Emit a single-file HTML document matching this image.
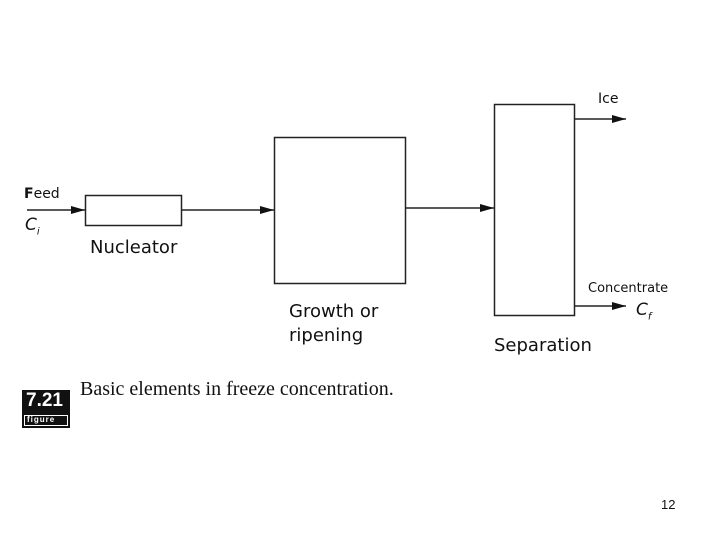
<!DOCTYPE html><html><head><style>
body{margin:0;width:720px;height:540px;background:#fff;position:relative;overflow:hidden;font-family:"DejaVu Sans","Liberation Sans",sans-serif;color:#111}
.t{position:absolute;white-space:nowrap}
</style></head><body>
<svg width="720" height="540" style="position:absolute;left:0;top:0">
<defs><marker id="a" markerWidth="14" markerHeight="8" refX="14" refY="4" orient="auto" markerUnits="userSpaceOnUse"><path d="M0,0L14,4L0,8z" fill="#111"/></marker></defs>
<g stroke="#222" stroke-width="1.5" fill="none">
<rect x="85.5" y="195.5" width="96" height="30"/>
<rect x="274.5" y="137.5" width="131" height="146"/>
<rect x="494.5" y="104.5" width="80" height="211"/>
<line x1="27" y1="210" x2="85" y2="210" marker-end="url(#a)"/>
<line x1="182" y1="210" x2="274" y2="210" marker-end="url(#a)"/>
<line x1="406" y1="208" x2="494" y2="208" marker-end="url(#a)"/>
<line x1="575" y1="119" x2="626" y2="119" marker-end="url(#a)"/>
<line x1="575" y1="306" x2="626" y2="306" marker-end="url(#a)"/>
</g>
<rect x="22" y="390" width="48" height="38" fill="#111"/>
<rect x="24" y="415" width="44" height="11" fill="#fff"/>
<rect x="25" y="416" width="42" height="9" fill="#111"/>
</svg>
<div class="t" style="left:24px;top:186px;font-size:14px"><b>F</b>eed</div>
<div class="t" style="left:25px;top:215px;font-size:17px;font-style:italic">C<sub style="font-size:10px">i</sub></div>
<div class="t" style="left:90px;top:237px;font-size:18px">Nucleator</div>
<div class="t" style="left:289px;top:300px;font-size:18px;line-height:24px">Growth or<br>ripening</div>
<div class="t" style="left:494px;top:335px;font-size:18px">Separation</div>
<div class="t" style="left:598px;top:91px;font-size:14px">Ice</div>
<div class="t" style="left:588px;top:281px;font-size:13px">Concentrate</div>
<div class="t" style="left:636px;top:300px;font-size:17px;font-style:italic">C<sub style="font-size:10px">f</sub></div>
<div class="t" style="left:26px;top:390px;font-size:19px;font-weight:bold;color:#fff;font-family:'Liberation Sans',sans-serif">7.21</div>
<div class="t" style="left:27px;top:415px;font-size:8px;font-weight:bold;color:#fff;letter-spacing:1px;font-family:'Liberation Sans',sans-serif">figure</div>
<div class="t" style="left:80px;top:378px;font-size:20px;font-family:'Liberation Serif',serif">Basic elements in freeze concentration.</div>
<div class="t" style="left:661px;top:497px;font-size:13px;font-family:'Liberation Sans',sans-serif">12</div>
</body></html>
